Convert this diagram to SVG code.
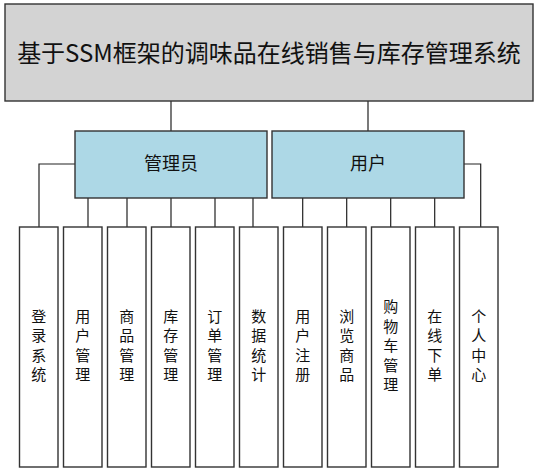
<svg xmlns="http://www.w3.org/2000/svg" width="539" height="473" viewBox="0 0 539 473">
<style>
.t{font-family:"Noto Sans CJK SC","Microsoft YaHei",sans-serif;fill:#111;text-anchor:middle}
.leaf{fill:#fff;stroke:#333;stroke-width:1.4}
.mid{fill:#add8e6;stroke:#333;stroke-width:1.4}
.c{fill:none;stroke:#222;stroke-width:1.2}
.lt{font-size:15px}
</style>
<rect width="539" height="473" fill="#fff"/>
<g id="connectors">
<path class="c" d="M171,101V131M368,101V131"/>
<path class="c" d="M75,164H39V227M88,198V227M127,198V227M171,198V227M215,198V227M253,198V227"/>
<path class="c" d="M464,164H480.7V227M302.7,198V227M346.7,198V227M390.7,198V227M434.7,198V227"/>
</g>
<g id="root">
<rect x="5" y="4" width="528" height="97" fill="#d3d3d3" stroke="#333" stroke-width="1.4"/>
<text class="t" x="269" y="62" font-size="24">基于SSM框架的调味品在线销售与库存管理系统</text>
</g>
<g id="admin">
<rect class="mid" x="75" y="131" width="192" height="67"/>
<text class="t" x="171" y="170" font-size="18">管理员</text>
</g>
<g id="user">
<rect class="mid" x="272" y="131" width="192" height="67"/>
<text class="t" x="368" y="170" font-size="18">用户</text>
</g>
<g id="leaf1"><rect class="leaf" x="19.5" y="227" width="38.5" height="240"/><text class="t lt"><tspan x="38.75" y="322">登</tspan><tspan x="38.75" dy="19.4">录</tspan><tspan x="38.75" dy="19.4">系</tspan><tspan x="38.75" dy="19.4">统</tspan></text></g>
<g id="leaf2"><rect class="leaf" x="63.5" y="227" width="38.5" height="240"/><text class="t lt"><tspan x="82.75" y="322">用</tspan><tspan x="82.75" dy="19.4">户</tspan><tspan x="82.75" dy="19.4">管</tspan><tspan x="82.75" dy="19.4">理</tspan></text></g>
<g id="leaf3"><rect class="leaf" x="107.5" y="227" width="38.5" height="240"/><text class="t lt"><tspan x="126.75" y="322">商</tspan><tspan x="126.75" dy="19.4">品</tspan><tspan x="126.75" dy="19.4">管</tspan><tspan x="126.75" dy="19.4">理</tspan></text></g>
<g id="leaf4"><rect class="leaf" x="151.5" y="227" width="38.5" height="240"/><text class="t lt"><tspan x="170.75" y="322">库</tspan><tspan x="170.75" dy="19.4">存</tspan><tspan x="170.75" dy="19.4">管</tspan><tspan x="170.75" dy="19.4">理</tspan></text></g>
<g id="leaf5"><rect class="leaf" x="195.5" y="227" width="38.5" height="240"/><text class="t lt"><tspan x="214.75" y="322">订</tspan><tspan x="214.75" dy="19.4">单</tspan><tspan x="214.75" dy="19.4">管</tspan><tspan x="214.75" dy="19.4">理</tspan></text></g>
<g id="leaf6"><rect class="leaf" x="239.5" y="227" width="38.5" height="240"/><text class="t lt"><tspan x="258.75" y="322">数</tspan><tspan x="258.75" dy="19.4">据</tspan><tspan x="258.75" dy="19.4">统</tspan><tspan x="258.75" dy="19.4">计</tspan></text></g>
<g id="leaf7"><rect class="leaf" x="283.5" y="227" width="38.5" height="240"/><text class="t lt"><tspan x="302.75" y="322">用</tspan><tspan x="302.75" dy="19.4">户</tspan><tspan x="302.75" dy="19.4">注</tspan><tspan x="302.75" dy="19.4">册</tspan></text></g>
<g id="leaf8"><rect class="leaf" x="327.5" y="227" width="38.5" height="240"/><text class="t lt"><tspan x="346.75" y="322">浏</tspan><tspan x="346.75" dy="19.4">览</tspan><tspan x="346.75" dy="19.4">商</tspan><tspan x="346.75" dy="19.4">品</tspan></text></g>
<g id="leaf9"><rect class="leaf" x="371.5" y="227" width="38.5" height="240"/><text class="t lt"><tspan x="390.75" y="312">购</tspan><tspan x="390.75" dy="19.6">物</tspan><tspan x="390.75" dy="19.6">车</tspan><tspan x="390.75" dy="19.6">管</tspan><tspan x="390.75" dy="19.6">理</tspan></text></g>
<g id="leaf10"><rect class="leaf" x="415.5" y="227" width="38.5" height="240"/><text class="t lt"><tspan x="434.75" y="322">在</tspan><tspan x="434.75" dy="19.4">线</tspan><tspan x="434.75" dy="19.4">下</tspan><tspan x="434.75" dy="19.4">单</tspan></text></g>
<g id="leaf11"><rect class="leaf" x="459.5" y="227" width="38.5" height="240"/><text class="t lt"><tspan x="478.75" y="322">个</tspan><tspan x="478.75" dy="19.4">人</tspan><tspan x="478.75" dy="19.4">中</tspan><tspan x="478.75" dy="19.4">心</tspan></text></g>
</svg>
